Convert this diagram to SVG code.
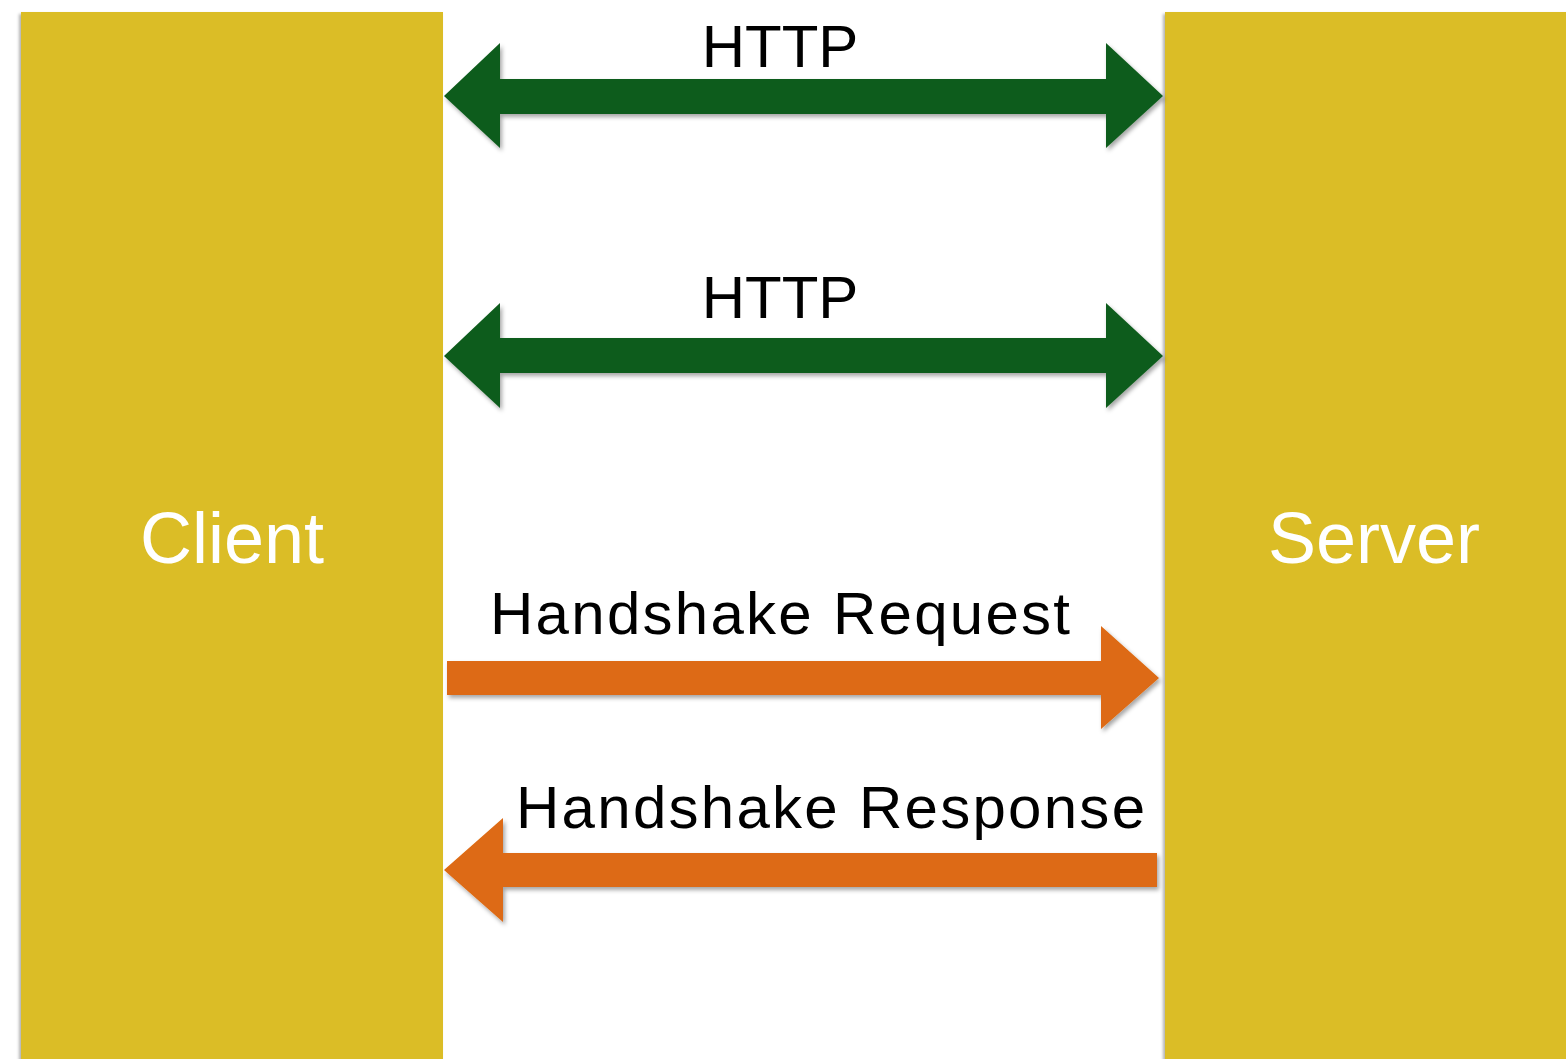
<svg xmlns="http://www.w3.org/2000/svg" width="1566" height="1059" viewBox="0 0 1566 1059">
  <defs>
    <filter id="boxShadow" x="-5%" y="-5%" width="110%" height="110%">
      <feDropShadow dx="-2" dy="2" stdDeviation="1.5" flood-color="#000" flood-opacity="0.3"/>
    </filter>
    <filter id="arrowShadow" x="-5%" y="-20%" width="110%" height="140%">
      <feDropShadow dx="2" dy="3" stdDeviation="2" flood-color="#000" flood-opacity="0.35"/>
    </filter>
  </defs>
  <style>
    .box { fill: #DBBD25; filter: url(#boxShadow); }
    .boxLabel { font-family: "Liberation Sans", Arial, sans-serif; font-size: 72px; fill: #FFFFFF; text-anchor: middle; }
    .label { font-family: "Liberation Sans", Arial, sans-serif; font-size: 60px; fill: #000000; }
    .green { fill: #0E5C1C; filter: url(#arrowShadow); }
    .orange { fill: #DD6A12; filter: url(#arrowShadow); }
  </style>
  <rect width="1566" height="1059" fill="#FFFFFF"/>

  <g id="client">
    <rect class="box" x="21" y="12" width="422" height="1060"/>
    <text class="boxLabel" x="232" y="563">Client</text>
  </g>

  <g id="server">
    <rect class="box" x="1165" y="12" width="410" height="1060"/>
    <text class="boxLabel" x="1374" y="563">Server</text>
  </g>

  <g id="connectors">
    <!-- HTTP, both directions -->
    <polygon class="green" points="444,96 500,43 500,79 1106,79 1106,43 1163,96 1106,148 1106,114 500,114 500,148"/>
    <text class="label" x="780" y="67" text-anchor="middle">HTTP</text>

    <!-- HTTP, both directions -->
    <polygon class="green" points="444,356 500,303 500,338 1106,338 1106,303 1163,356 1106,408 1106,373 500,373 500,408"/>
    <text class="label" x="780" y="318" text-anchor="middle">HTTP</text>

    <!-- client to server -->
    <polygon class="orange" points="447,661 1101,661 1101,626 1159,678 1101,729 1101,695 447,695"/>
    <text class="label" x="490" y="634" textLength="580" lengthAdjust="spacing">Handshake Request</text>

    <!-- server to client -->
    <polygon class="orange" points="444,870 503,818 503,853 1157,853 1157,887 503,887 503,922"/>
    <text class="label" x="516" y="828" textLength="629" lengthAdjust="spacing">Handshake Response</text>
  </g>
</svg>
